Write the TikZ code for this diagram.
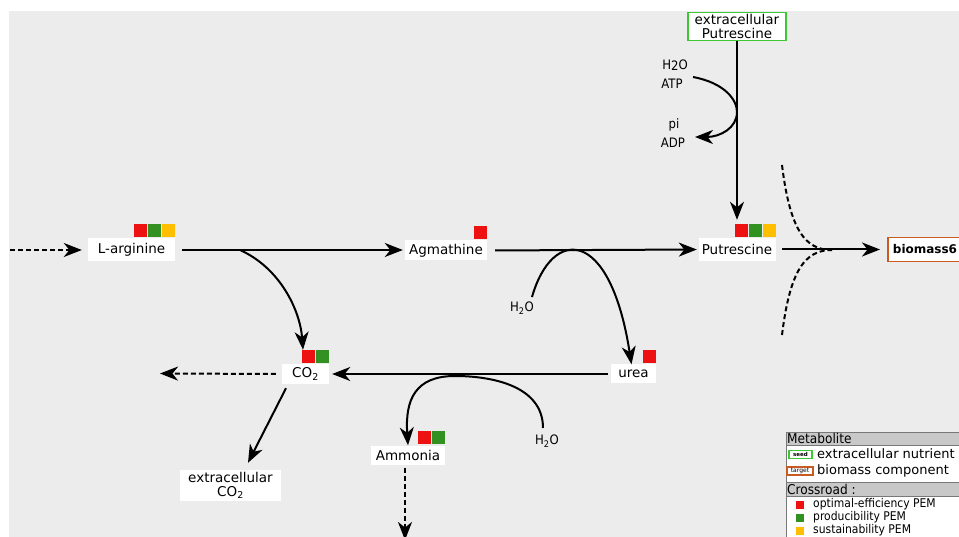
\documentclass[tikz,border=0pt]{standalone}
\usepackage{fontspec}
\setmainfont{DejaVu Sans}
\newfontfamily\cond{DejaVu Sans Condensed}
\usetikzlibrary{arrows.meta}
\definecolor{bgc}{RGB}{236,236,236}
\definecolor{pemred}{RGB}{238,17,17}
\definecolor{pemgreen}{RGB}{51,145,34}
\definecolor{pemyellow}{RGB}{255,190,0}
\definecolor{seedc}{RGB}{60,200,50}
\definecolor{targc}{RGB}{200,90,35}
\definecolor{hdr}{RGB}{200,200,200}
\definecolor{hdrline}{RGB}{120,120,120}
\newcommand\pemsq[3]{\fill[#3] ([xshift=-#2*14pt-13pt, yshift=1pt]#1.north east) rectangle ++(13pt,13pt);}
\tikzset{
  met/.style={fill=white, font=\fontsize{13.5}{14}\selectfont, inner sep=0pt, minimum height=23pt},
  lbl/.style={font=\cond\fontsize{13}{14}\selectfont, inner sep=0pt},
  rx/.style={line width=2pt, -{Stealth[length=18pt,width=14pt,inset=5.5pt]}},
  dsh/.style={rx, dash pattern=on 5pt off 3pt},
  dline/.style={line width=2pt, dash pattern=on 5pt off 3pt},
  legtxt/.style={anchor=west, inner sep=0pt, font=\fontsize{13}{14}\selectfont},
  leghdr/.style={anchor=west, inner sep=0pt, font=\cond\fontsize{13.5}{14}\selectfont},
  legrow/.style={anchor=west, inner sep=0pt, font=\cond\fontsize{12}{12}\selectfont},
}
\begin{document}
\begin{tikzpicture}[x=1pt,y=-1pt]
\path[use as bounding box] (0,0) rectangle (959,537);
\clip (0,0) rectangle (959,537);
\fill[bgc] (9,11) rectangle (970,545);

% metabolites
\node[met, minimum width=87pt] (arg) at (131.5,250) {L-arginine};
\node[met, minimum width=82pt, minimum height=20pt] (agm) at (446,250.5) {Agmathine};
\node[met, minimum width=77pt] (put) at (737,249.5) {Putrescine};
\node[met, minimum width=45pt, minimum height=19pt] (urea) at (633.5,374) {urea};
\node[met, minimum width=47pt, minimum height=20pt] (co2) at (305.5,374) {CO\textsubscript{2}};
\node[met, minimum width=74pt, minimum height=19pt] (amm) at (408,455) {Ammonia};
\node[met, minimum width=101pt, minimum height=31pt, align=center] (eco2) at (230.5,485.5) {extracellular\\CO\textsubscript{2}};
\node[met, draw=seedc, line width=1.5pt, minimum width=98pt, minimum height=28pt, align=center] (eput) at (737,26.5) {extracellular\\Putrescine};
\node[met, draw=targc, line width=1.8pt, anchor=west, inner xsep=5pt, minimum height=24pt, font=\bfseries\fontsize{12}{13}\selectfont] (bio) at (887,249.5) {biomass6};

% crossroad marks
\pemsq{arg}{2}{pemred}\pemsq{arg}{1}{pemgreen}\pemsq{arg}{0}{pemyellow}
\pemsq{agm}{0}{pemred}
\pemsq{put}{2}{pemred}\pemsq{put}{1}{pemgreen}\pemsq{put}{0}{pemyellow}
\pemsq{co2}{1}{pemred}\pemsq{co2}{0}{pemgreen}
\pemsq{urea}{0}{pemred}
\pemsq{amm}{1}{pemred}\pemsq{amm}{0}{pemgreen}

% side labels
\node[lbl] (h2o1) at (675,65) {H\raisebox{-1.5pt}{2}O};
\node[lbl] (atp) at (672,84) {ATP};
\node[lbl] (pi) at (674,125) {pi};
\node[lbl] (adp) at (673,143) {ADP};
\node[lbl] (h2o2) at (522,308) {H\textsubscript{2}O};
\node[lbl] (h2o3) at (547,441) {H\textsubscript{2}O};

% coordinates
\coordinate (lin) at (10,250);
\coordinate (co2out) at (160,373.5);
\coordinate (ammout) at (405,540);
\coordinate (b1) at (240,250);
\coordinate (b2s) at (532,297);
\coordinate (b3s) at (543,428);
\coordinate (tps) at (693,77);
\coordinate (tpe) at (695,137);
\coordinate (dtop) at (782,165);
\coordinate (dbot) at (782,335);
\coordinate (djn) at (832,250);

% reactions
\draw[dsh, shorten >=6pt] (lin) -- (arg.west);
\draw[rx, shorten <=7pt, shorten >=2pt] (arg.east) -- (agm.west |- arg.east);
\draw[rx, shorten <=8pt, shorten >=1.5pt] (agm.east) -- (put.west);
\draw[rx, shorten <=6.5pt, shorten >=7pt] (put.east) -- (bio.west);
\draw[rx, shorten <=3pt, shorten >=3pt] (urea.west) -- (co2.east);
\draw[dsh, shorten <=6pt] (co2.west) -- (co2out);
\draw[rx] ([shift={(-19.5pt,-4pt)}]co2.south) -- ([shift={(17.5pt,7pt)}]eco2.north);
\draw[dsh] ([shift={(-3pt,-3pt)}]amm.south) -- (ammout);
\draw[rx, shorten >=18pt] (eput.south) -- (put.north);

\draw[rx] (b1) .. controls (280,268) and (300,310) .. ([shift={(-2.5pt,14pt)}]co2.north);
\draw[rx] (b2s) .. controls (552,227) and (610,226) .. ([xshift=-2pt]urea.north);
\draw[rx] (b3s) .. controls (543,385) and (490,376) .. (455,376) .. controls (415,376) and (405,400) .. (amm.north);
\draw[rx] (tps) .. controls (725,83) and (737,100) .. (737,112) .. controls (737,128) and (720,137) .. (tpe);

\draw[dline] (dtop) .. controls (790,230) and (805,250) .. (djn);
\draw[dline] (dbot) .. controls (790,270) and (805,250) .. (djn);

% legend
\fill[white] (786,432) rectangle (970,545);
\draw[hdrline, fill=hdr] (786,432) rectangle (970,445);
\draw[hdrline] (786,445) rectangle (970,482);
\draw[hdrline, fill=hdr] (786,482) rectangle (970,496);
\draw[hdrline] (786,496) rectangle (970,545);
\node[leghdr] (lmet) at (787,438.5) {Metabolite};
\node[draw=seedc, line width=1.2pt, inner sep=0pt, minimum width=23pt, minimum height=7.5pt, font=\bfseries\fontsize{5.5}{5.5}\selectfont] (lseed) at (800.5,454.5) {seed};
\node[legtxt] (lseedt) at (817,454) {extracellular nutrient};
\node[draw=targc, line width=1.2pt, inner sep=0pt, minimum width=26pt, minimum height=8pt, font=\fontsize{6}{6}\selectfont] (ltarg) at (800,471) {target};
\node[legtxt] (ltargt) at (817,471) {biomass component};
\node[leghdr] (lcross) at (787,489) {Crossroad :};
\fill[pemred] (796,501) rectangle (804,509);
\node[legrow] (lr1) at (813,504) {optimal-efficiency PEM};
\fill[pemgreen] (796,514) rectangle (804,522);
\node[legrow] (lr2) at (813,517.5) {producibility PEM};
\fill[pemyellow] (796,527) rectangle (804,535);
\node[legrow] (lr3) at (813,530.5) {sustainability PEM};
\end{tikzpicture}
\end{document}
